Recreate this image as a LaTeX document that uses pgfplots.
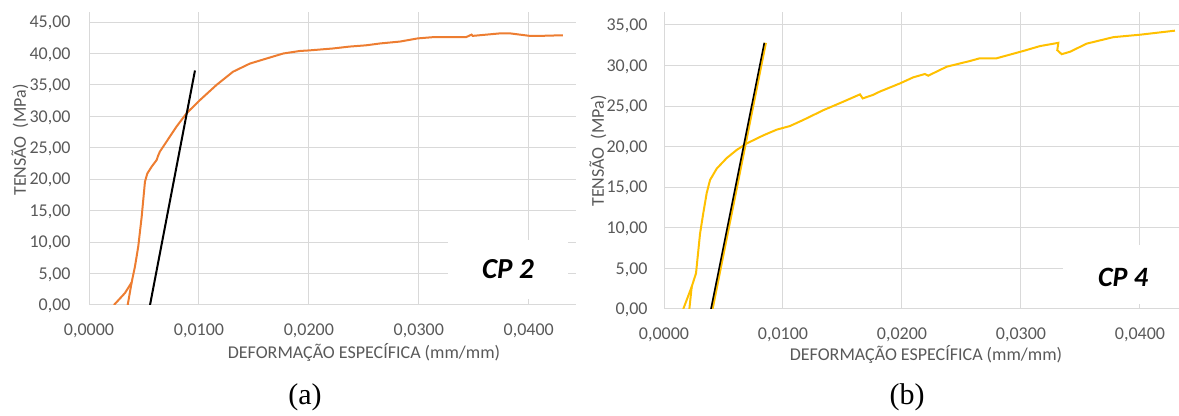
\documentclass[border=0pt]{standalone}
\usepackage{fontspec}
\setmainfont{Carlito}
\newfontfamily\seriffont{Liberation Serif}
\usepackage{pgfplots}
\pgfplotsset{compat=1.18}
\definecolor{xlorange}{HTML}{ED7D31}
\definecolor{xlyellow}{HTML}{FFC000}
\definecolor{xlgray}{HTML}{595959}
\definecolor{xlgrid}{HTML}{D9D9D9}
\pgfplotsset{
  xlaxis/.style={
    scale only axis,
    axis line style={draw=none},
    major tick length=0pt,
    grid=major,
    grid style={xlgrid, line width=0.5pt},
    tick label style={font=\fontsize{9}{10}\selectfont, text=xlgray},
    xticklabel style={anchor=base, yshift=-15.5pt},
    yticklabel style={anchor=base east, inner sep=0pt, yshift=-2.85pt},
    scaled x ticks=false, scaled y ticks=false,
    xtick={0,0.01,0.02,0.03,0.04},
    xticklabels={{0,0000},{0,0100},{0,0200},{0,0300},{0,0400}},
    xmin=0, ymin=0,
  },
}
\begin{document}
\begin{tikzpicture}[x=0.5pt, y=-0.5pt]
\useasboundingbox (0,0) rectangle (1179,416);
\coordinate (A) at (89,305);
\coordinate (B) at (664,309);

% (a) CP 2
\begin{axis}[xlaxis, at={(A)}, anchor=south west,
  width=243.5pt, height=146.5pt,
  xmax=0.0443, ymax=46.6,
  ytick={0,5,10,15,20,25,30,35,40,45},
  yticklabels={{0,00},{5,00},{10,00},{15,00},{20,00},{25,00},{30,00},{35,00},{40,00},{45,00}},
  yticklabel style={xshift=-9pt},
]
\addplot[xlorange, line width=1pt] coordinates {
(0.00352,0) (0.00388,3.6)
};
\addplot[xlorange, line width=1pt] coordinates {
(0.00227,0) (0.00327,1.9) (0.00388,3.6) (0.00418,6.1) (0.00448,9.3)
(0.00479,14.0) (0.00509,19.6) (0.00530,20.9) (0.0057,22.0) (0.00615,23.05)
(0.0063,23.8) (0.00645,24.4) (0.00706,26.0) (0.00797,28.4) (0.00888,30.5)
(0.0101,32.6) (0.0116,35.0) (0.0131,37.1) (0.01464,38.4) (0.01615,39.2)
(0.01767,40.0) (0.01918,40.4) (0.0201,40.5) (0.0222,40.8) (0.0237,41.1)
(0.0252,41.3) (0.0265,41.6) (0.0283,41.9) (0.0299,42.4) (0.0313,42.6)
(0.0331,42.6) (0.0343,42.6) (0.0348,43.0) (0.0349,42.8) (0.0374,43.2)
(0.0383,43.2) (0.0401,42.8) (0.041,42.8) (0.0431,42.9)
};
\addplot[black, line width=1pt] coordinates {(0.00555,0) (0.00964,37.3)};
\end{axis}

% (b) CP 4
\begin{axis}[xlaxis, at={(B)}, anchor=south west,
  width=257.5pt, height=148.5pt,
  xmax=0.04328, ymax=36.6,
  ytick={0,5,10,15,20,25,30,35},
  yticklabels={{0,00},{5,00},{10,00},{15,00},{20,00},{25,00},{30,00},{35,00}},
  yticklabel style={xshift=-8pt},
]
\addplot[xlyellow, line width=1pt] coordinates {
(0.00213,0) (0.00233,2.75)
};
\addplot[xlyellow, line width=1pt] coordinates {
(0.00162,0) (0.00233,2.75) (0.00269,4.4) (0.00303,9.3) (0.0033,11.8)
(0.00359,14.3) (0.00387,15.9) (0.00443,17.3) (0.00527,18.6) (0.00611,19.6)
(0.00695,20.4) (0.00835,21.4) (0.00947,22.1) (0.01059,22.55) (0.01171,23.3)
(0.01339,24.5) (0.01507,25.55) (0.01647,26.45) (0.0167,25.95) (0.01759,26.4)
(0.01815,26.8) (0.01983,27.8) (0.02095,28.55) (0.02193,28.96) (0.0222,28.75)
(0.02376,29.86) (0.02571,30.56) (0.02655,30.9) (0.02796,30.9) (0.0302,31.8)
(0.0316,32.4) (0.03314,32.8) (0.03305,31.9) (0.03342,31.4) (0.03412,31.7)
(0.03552,32.7) (0.03776,33.5) (0.04,33.8) (0.04294,34.3)
};
\addplot[xlyellow, line width=1.4pt] coordinates {(0.00405,0) (0.00853,32.8)};
\addplot[black, line width=0.8pt] coordinates {(0.00395,0) (0.00843,32.8)};
\end{axis}

% white boxes behind the specimen labels
\fill[white] (448,240) rectangle (568,299);
\fill[white] (1063,245) rectangle (1179,304);
\node[font=\fontsize{14.5}{16}\selectfont\bfseries\itshape] at (508,269) {CP 2};
\node[font=\fontsize{14}{16}\selectfont\bfseries\itshape] at (1123,277) {CP 4};

% axis titles
\node[font=\fontsize{9}{10}\selectfont, text=xlgray] at (364,353) {DEFORMAÇÃO ESPECÍFICA (mm/mm)};
\node[font=\fontsize{9}{10}\selectfont, text=xlgray] at (926,355) {DEFORMAÇÃO ESPECÍFICA (mm/mm)};
\node[font=\fontsize{9}{10}\selectfont, text=xlgray, rotate=90] at (20,140) {TENSÃO\ \ (MPa)};
\node[font=\fontsize{9}{10}\selectfont, text=xlgray, rotate=90] at (598,151) {TENSÃO\ \ (MPa)};

% sub-captions
\node[font=\seriffont\fontsize{15}{17}\selectfont] at (305,397) {(a)};
\node[font=\seriffont\fontsize{15}{17}\selectfont] at (907,397) {(b)};
\end{tikzpicture}
\end{document}
